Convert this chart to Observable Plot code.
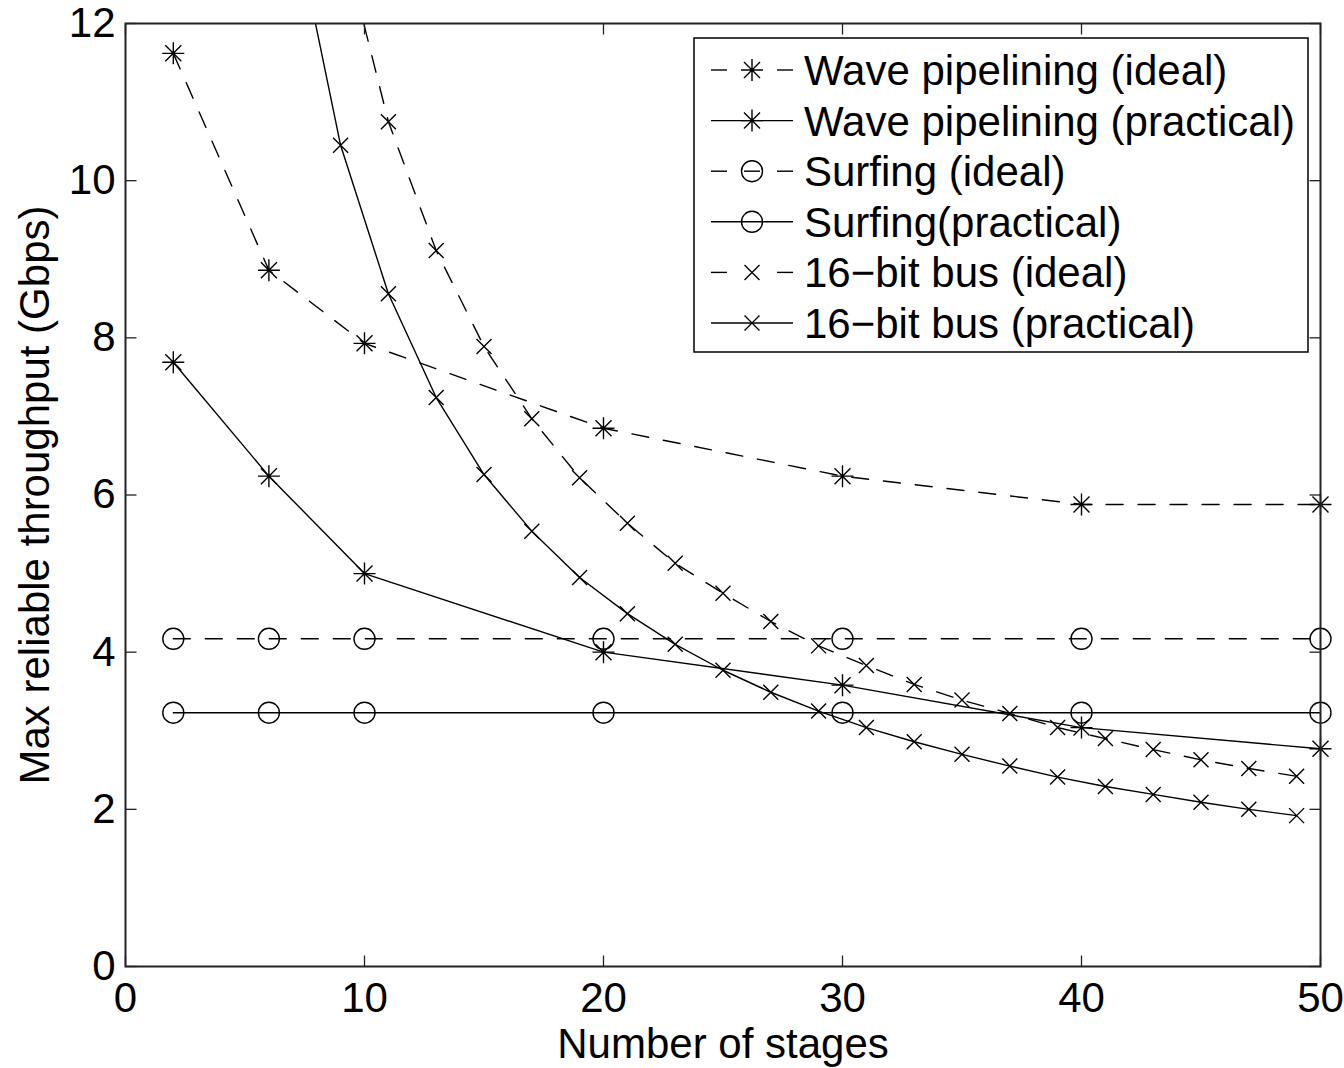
<!DOCTYPE html>
<html>
<head>
<meta charset="utf-8">
<script src="https://cdn.jsdelivr.net/npm/d3@7"></script>
<script src="https://cdn.jsdelivr.net/npm/@observablehq/plot@0.6"></script>
<style>
  html, body { margin: 0; padding: 0; background: white; }
  #chart svg { display: block; }
</style>
</head>
<body>
<div id="chart"></div>
<script>
// ---- data ----
const wpStages = [2, 6, 10, 20, 30, 40, 50];
const wpIdeal = [11.62, 8.86, 7.93, 6.85, 6.24, 5.88, 5.88];
const wpPractical = [7.69, 6.24, 5.0, 4.0, 3.58, 3.04, 2.77];

const surfStages = [2, 6, 10, 20, 30, 40, 50];
const surfIdeal = [4.17, 4.17, 4.17, 4.17, 4.17, 4.17, 4.17];
const surfPractical = [3.23, 3.23, 3.23, 3.23, 3.23, 3.23, 3.23];

const busIdealStages = [9, 11, 13, 15, 17, 19, 21, 23, 25, 27, 29, 31, 33, 35, 37, 39, 41, 43, 45, 47, 49];
const busIdeal = [13.17, 10.75, 9.11, 7.89, 6.97, 6.22, 5.64, 5.13, 4.75, 4.39, 4.08, 3.83, 3.59, 3.39, 3.22, 3.04, 2.90, 2.76, 2.63, 2.52, 2.42];
const busPracticalStages = [7, 9, 11, 13, 15, 17, 19, 21, 23, 25, 27, 29, 31, 33, 35, 37, 39, 41, 43, 45, 47, 49];
const busPractical = [13.4, 10.45, 8.56, 7.24, 6.26, 5.54, 4.95, 4.49, 4.10, 3.77, 3.49, 3.25, 3.04, 2.86, 2.70, 2.55, 2.41, 2.29, 2.19, 2.09, 2.00, 1.92];

const seriesNames = [
  "Wave pipelining (ideal)",
  "Wave pipelining (practical)",
  "Surfing (ideal)",
  "Surfing(practical)",
  "16\u2212bit bus (ideal)",
  "16\u2212bit bus (practical)"
];
const xTicks = [0, 10, 20, 30, 40, 50];
const yTicks = [0, 2, 4, 6, 8, 10, 12];
const xLabel = "Number of stages";
const yLabel = "Max reliable throughput (Gbps)";

// ---- symbols ----
const asterisk = {draw(c) {
  const r = 11, d = 8;
  c.moveTo(0, -r); c.lineTo(0, r);
  c.moveTo(-r, 0); c.lineTo(r, 0);
  c.moveTo(-d, -d); c.lineTo(d, d);
  c.moveTo(-d, d); c.lineTo(d, -d);
}};
const cross = {draw(c) {
  const r = 7.5;
  c.moveTo(-r, -r); c.lineTo(r, r);
  c.moveTo(-r, r); c.lineTo(r, -r);
}};
const ring = {draw(c) {
  const r = 10.5;
  c.moveTo(r, 0); c.arc(0, 0, r, 0, 2 * Math.PI);
}};
const tickUp = {draw(c) { c.moveTo(0, 0); c.lineTo(0, -11); }};
const tickDown = {draw(c) { c.moveTo(0, 0); c.lineTo(0, 11); }};
const tickRight = {draw(c) { c.moveTo(0, 0); c.lineTo(11, 0); }};
const tickLeft = {draw(c) { c.moveTo(0, 0); c.lineTo(-11, 0); }};

const toRows = (xs, ys) => xs.map((x, i) => ({x, y: ys[i]}));
const series = [
  {rows: toRows(wpStages, wpIdeal), dashed: true, sym: asterisk},
  {rows: toRows(wpStages, wpPractical), dashed: false, sym: asterisk},
  {rows: toRows(surfStages, surfIdeal), dashed: true, sym: ring},
  {rows: toRows(surfStages, surfPractical), dashed: false, sym: ring},
  {rows: toRows(busIdealStages, busIdeal), dashed: true, sym: cross, clip: true},
  {rows: toRows(busPracticalStages, busPractical), dashed: false, sym: cross, clip: true}
];

const DASH = "17,15";
const LW = 1.4;
const FONT = "'Liberation Sans', Arial, sans-serif";
const marks = [];
for (const s of series) {
  marks.push(Plot.line(s.rows, {x: "x", y: "y", stroke: "black", strokeWidth: LW,
    strokeDasharray: s.dashed ? DASH : null, clip: true}));
  marks.push(Plot.dot(s.rows, {x: "x", y: "y", symbol: s.sym, stroke: "black",
    fill: "none", strokeWidth: LW, clip: !!s.clip}));
}

const chart = Plot.plot({
  width: 1344,
  height: 1068,
  marginLeft: 125,
  marginRight: 24,
  marginTop: 23,
  marginBottom: 102,
  x: {domain: [0, 50], label: null},
  y: {domain: [0, 12], label: null},
  style: {fontFamily: FONT, fontSize: "42px", background: "white", color: "black"},
  marks: [
    ...marks,
    Plot.dot(xTicks, {x: d => d, y: 0, symbol: tickUp, stroke: "#222", strokeWidth: 1.3}),
    Plot.dot(xTicks, {x: d => d, y: 12, symbol: tickDown, stroke: "#222", strokeWidth: 1.3}),
    Plot.dot(yTicks, {y: d => d, x: 0, symbol: tickRight, stroke: "#222", strokeWidth: 1.3}),
    Plot.dot(yTicks, {y: d => d, x: 50, symbol: tickLeft, stroke: "#222", strokeWidth: 1.3}),
    Plot.frame({stroke: "#222", strokeWidth: 2}),
    Plot.axisX(xTicks, {tickSize: 0, tickPadding: 16, tickFormat: d => String(d), label: null, fontSize: 42}),
    Plot.axisY(yTicks, {tickSize: 0, tickPadding: 10, tickFormat: d => String(d), label: null, fontSize: 42}),
    Plot.text([xLabel], {frameAnchor: "bottom", dy: 78, text: d => d, fontSize: 42, lineAnchor: "middle", textAnchor: "middle", fill: "black"}),
    Plot.text([yLabel], {frameAnchor: "left", dx: -90, rotate: -90, text: d => d, fontSize: 42, lineAnchor: "middle", textAnchor: "middle", fill: "black"})
  ]
});

document.getElementById("chart").appendChild(chart);

// ---- legend (inside the plot, top right) ----
const svg = d3.select(chart);
const lg = svg.append("g").attr("class", "legend").attr("text-anchor", "start");
const box = {x: 694, y: 38, w: 614, h: 314};
lg.append("rect").attr("x", box.x).attr("y", box.y).attr("width", box.w).attr("height", box.h)
  .attr("fill", "white").attr("stroke", "black").attr("stroke-width", 1.5);
const rowY0 = 70, rowStep = 50.6;
const lx0 = 711, lx1 = 793, lmx = 752, tx = 804;
series.forEach((s, i) => {
  const cy = rowY0 + i * rowStep;
  const row = lg.append("g");
  if (s.dashed) {
    const segs = [[lx0, lx0 + 16], [lx1 - 16, lx1]];
    if (s.sym === ring) segs.push([lmx - 8, lmx + 8]);
    segs.forEach(([a, b]) => row.append("line").attr("x1", a).attr("x2", b).attr("y1", cy).attr("y2", cy)
      .attr("stroke", "black").attr("stroke-width", LW));
  } else {
    row.append("line").attr("x1", lx0).attr("x2", lx1).attr("y1", cy).attr("y2", cy)
      .attr("stroke", "black").attr("stroke-width", LW);
  }
  const p = d3.path();
  s.sym.draw(p, 0);
  row.append("path").attr("d", p.toString()).attr("transform", `translate(${lmx},${cy})`)
    .attr("fill", "none").attr("stroke", "black").attr("stroke-width", LW);
  row.append("text").attr("x", tx).attr("y", cy + 15).attr("font-size", 42)
    .attr("font-family", FONT).attr("fill", "black").attr("text-anchor", "start")
    .text(seriesNames[i]);
});
</script>
</body>
</html>
